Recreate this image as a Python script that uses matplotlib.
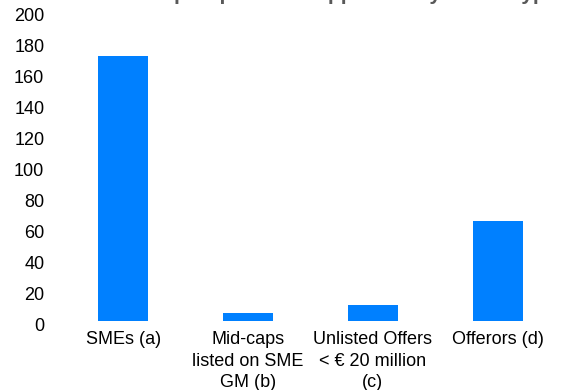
import matplotlib
matplotlib.use("Agg")
import matplotlib.pyplot as plt
from matplotlib.transforms import ScaledTranslation

categories = ["SMEs (a)", "Mid-caps\nlisted on SME\nGM (b)",
              "Unlisted Offers\n< € 20 million\n(c)", "Offerors (d)"]
values = [171, 5, 10, 64]
title = "Number of EU Growth prospectuses approved by issuer type"

plt.rcParams["font.family"] = ["Liberation Sans", "DejaVu Sans"]

fig = plt.figure(figsize=(5.83, 3.9), dpi=100)
ax = fig.add_axes([0.1045, 0.1777, 0.8562, 0.7949])

x = range(len(categories))
ax.bar(x, values, width=0.4, color="#0080FF")
ax.set_xlim(-0.5, len(categories) - 0.5)
ax.set_ylim(0, 200)
ax.set_yticks(range(0, 201, 20))
ax.set_xticks(list(x))
ax.set_xticklabels(categories, fontsize=13, linespacing=1.35)

for side in ["top", "right", "left", "bottom"]:
    ax.spines[side].set_visible(False)
ax.tick_params(axis="y", length=0, pad=12, labelsize=13)
ax.tick_params(axis="x", length=0, pad=7.5)
for lab in ax.get_yticklabels():
    lab.set_transform(lab.get_transform() + ScaledTranslation(0, -4 / 100, fig.dpi_scale_trans))

# title sits mostly above the canvas, only descenders show
fig.text(557 / 583, 1.0 - 0.5 / 390, title, ha="right", va="baseline", fontsize=15,
         fontweight="bold", color="#595959")

fig.savefig("out.png", dpi=100)
